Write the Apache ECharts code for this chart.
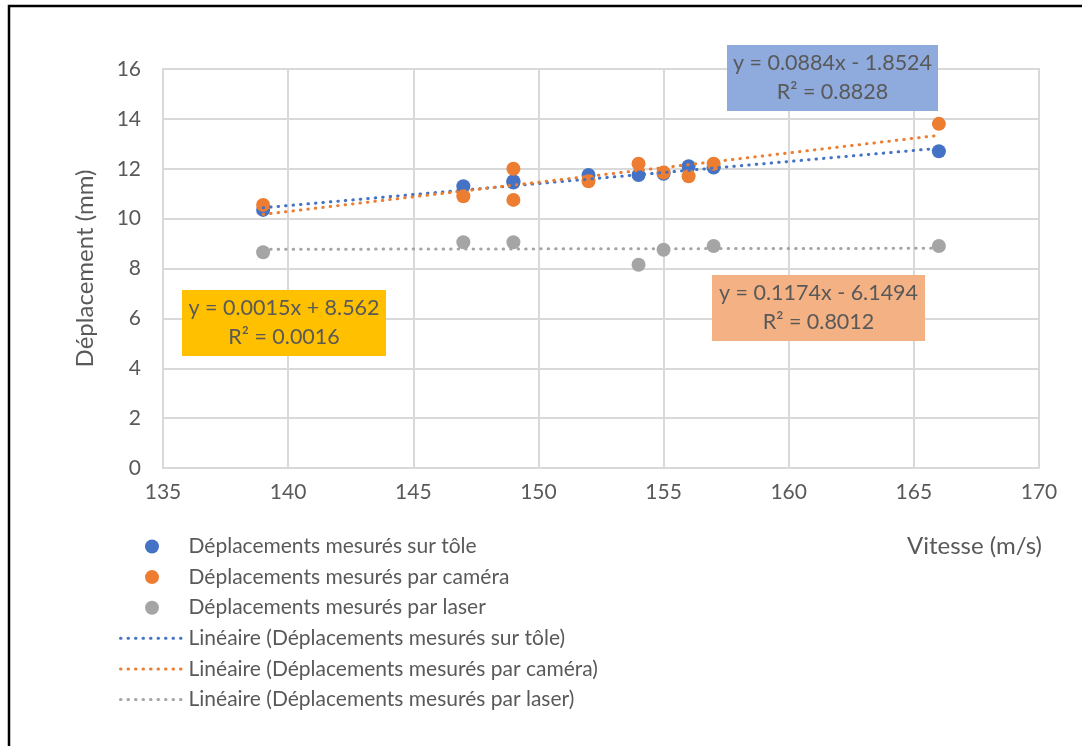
<!DOCTYPE html>
<html>
<head>
<meta charset="utf-8">
<script src="https://cdn.jsdelivr.net/npm/echarts@6/dist/echarts.min.js"></script>
<style>
  html, body { margin: 0; padding: 0; background: #fff; }
  #chart { width: 1082px; height: 746px; }
</style>
</head>
<body>
<div id="chart"></div>
<script>
// vitesse (m/s) for each measurement
const vitesseTole = [139, 147, 149, 149, 152, 154, 155, 156, 157, 166]
const deplTole = [10.35, 11.3, 11.5, 11.45, 11.75, 11.75, 11.8, 12.1, 12.05, 12.7]

const vitesseCamera = [139, 147, 149, 149, 152, 154, 155, 156, 157, 166]
const deplCamera = [10.55, 10.9, 12.0, 10.75, 11.5, 12.2, 11.85, 11.7, 12.2, 13.8]

const vitesseLaser = [139, 147, 149, 154, 155, 157, 166]
const deplLaser = [8.65, 9.05, 9.05, 8.15, 8.75, 8.9, 8.9]

// trend lines as printed on the chart
const seriesNames = ['Déplacements mesurés sur tôle', 'Déplacements mesurés par caméra', 'Déplacements mesurés par laser']
const trendSlope = [0.0884, 0.1174, 0.0015]
const trendIntercept = [-1.8524, -6.1494, 8.562]
const trendR2 = ['0.8828', '0.8012', '0.0016']
const trendRange = [139, 166]

const colors = ['#4472C4', '#ED7D31', '#A5A5A5']
const boxColors = ['#8FAADC', '#F4B183', '#FFC000']
const textColor = '#595959'
const gridColor = '#D9D9D9'
const font = 'Lato, "Open Sans", sans-serif'

const pairs = (xs, ys) => xs.map((x, i) => [x, ys[i]])

const trendData = (i) => trendRange.map(x => [x, trendSlope[i] * x + trendIntercept[i]])

const equation = (i) => {
  const b = trendIntercept[i]
  const sign = b < 0 ? ' - ' : ' + '
  return 'y = ' + trendSlope[i].toFixed(4) + 'x' + sign + Math.abs(b) + '\nR² = ' + trendR2[i]
}

// label boxes: [x, y, w, h]
const boxes = [
  [727, 45, 211, 66],
  [712, 275, 213, 66],
  [182, 290, 204, 66],
]

const setGraphic = () => {
  let items = [
    {
      type: 'rect',
      shape: { x: 9, y: 6, width: 1200, height: 900 },
      style: { fill: 'none', stroke: '#000', lineWidth: 2.5 },
      z: 100,
    },
    {
      type: 'text',
      style: {
        text: 'Vitesse (m/s)',
        x: 1042, y: 546,
        align: 'right', verticalAlign: 'middle',
        fill: textColor, font: '24px ' + font,
      },
      z: 100,
    },
  ]
  boxes.forEach((b, i) => {
    items.push({
      type: 'rect',
      shape: { x: b[0], y: b[1], width: b[2], height: b[3] },
      style: { fill: boxColors[i] },
      z: 100,
    })
    items.push({
      type: 'text',
      style: {
        text: equation(i),
        x: b[0] + b[2] / 2, y: b[1] + b[3] / 2,
        align: 'center', verticalAlign: 'middle',
        lineHeight: 29,
        fill: textColor, font: '21.5px ' + font,
      },
      z: 101,
    })
  })
  return items
}

const setSeries = () => {
  const scatters = [
    pairs(vitesseTole, deplTole),
    pairs(vitesseCamera, deplCamera),
    pairs(vitesseLaser, deplLaser),
  ].map((d, i) => ({
    name: seriesNames[i],
    type: 'scatter',
    symbol: 'circle',
    symbolSize: 14,
    itemStyle: { color: colors[i], opacity: 1 },
    data: d,
  }))
  const lines = seriesNames.map((n, i) => ({
    name: 'Linéaire (' + n + ')',
    type: 'line',
    symbol: 'none',
    showSymbol: false,
    color: colors[i],
    lineStyle: { color: colors[i], width: 3, type: [0.5, 7], cap: 'round' },
    data: trendData(i),
  }))
  return [...scatters, ...lines]
}

const myChart = echarts.init(document.getElementById('chart'), null, { renderer: 'canvas' })
const option = {
  animation: false,
  backgroundColor: '#fff',
  grid: {
    left: 163, right: 43, top: 69, bottom: 278,
    containLabel: false,
    outerBoundsMode: 'none',
    show: true,
    borderColor: gridColor,
    borderWidth: 2,
  },
  legend: {
    orient: 'vertical',
    left: 114,
    top: 531,
    itemWidth: 63,
    itemHeight: 14,
    itemGap: 9.6,
    lineStyle: { width: 3 },
    textStyle: { color: textColor, fontSize: 21, fontFamily: font, lineHeight: 20 },
    data: [
      ...seriesNames.map(n => ({ name: n, icon: 'circle' })),
      ...seriesNames.map(n => ({ name: 'Linéaire (' + n + ')', itemStyle: { opacity: 0 } })),
    ],
  },
  xAxis: {
    type: 'value',
    min: 135, max: 170, interval: 5,
    axisLine: { show: true, lineStyle: { color: gridColor, width: 2 } },
    axisTick: { show: false },
    axisLabel: { color: textColor, fontSize: 21, fontFamily: font, margin: 14 },
    splitLine: { show: true, lineStyle: { color: gridColor, width: 2 } },
  },
  yAxis: {
    type: 'value',
    min: 0, max: 16, interval: 2,
    name: 'Déplacement (mm)',
    nameLocation: 'middle',
    nameGap: 66,
    nameTextStyle: { color: textColor, fontSize: 24, fontFamily: font },
    axisLine: { show: true, lineStyle: { color: gridColor, width: 2 } },
    axisTick: { show: false },
    axisLabel: { color: textColor, fontSize: 21, fontFamily: font, margin: 22 },
    splitLine: { show: true, lineStyle: { color: gridColor, width: 2 } },
  },
  graphic: setGraphic(),
  series: setSeries(),
}
myChart.setOption(option)
</script>
</body>
</html>
